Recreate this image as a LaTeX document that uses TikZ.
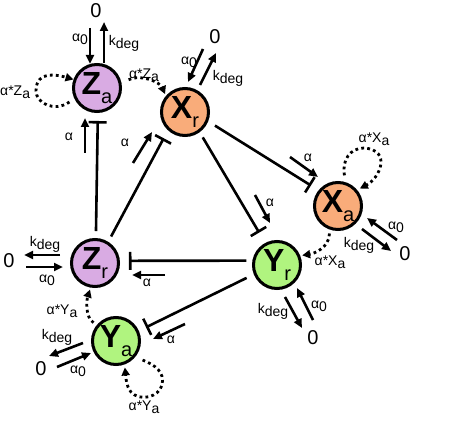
\documentclass[tikz,border=0pt]{standalone}
\usepackage{fontspec}
\setmainfont{Liberation Sans}
\usetikzlibrary{arrows.meta}
\definecolor{purp}{HTML}{D9ABE3}
\definecolor{oran}{HTML}{F9AC7A}
\definecolor{gren}{HTML}{B0F47F}
\newcommand\azero{α\raisebox{-3pt}{0}}
\newcommand\kdg{k\raisebox{-3pt}{deg}}
\newcommand\astar[1]{α*#1\raisebox{-3pt}{a}}
\newcommand\spec[2]{\textbf{#1}\raisebox{-9pt}{\fontsize{20}{20}\selectfont\mdseries #2}}
\begin{document}
\begin{tikzpicture}[x=1pt,y=-1pt,
  cn/.style={circle, draw, line width=3pt, minimum size=47pt, inner sep=0pt,
    font=\fontsize{32}{32}\selectfont},
  lab/.style={font=\fontsize{14}{16}\selectfont, inner sep=0pt},
  zero/.style={font=\fontsize{20}{21}\selectfont, inner sep=0pt},
  flux/.style={line width=2.6pt, -{Triangle[length=9pt,width=8pt]}},
  inh/.style={line width=2.6pt, -{Bar[width=18pt]}},
  dotarr/.style={line width=2.8pt, dash pattern=on 2.8pt off 3.2pt,
    -{Triangle[length=8pt,width=8pt]}}]
\useasboundingbox (0,0) rectangle (458,441);

% species
\node[cn, fill=purp] (Za) at (97,88) {\spec Za};
\node[cn, fill=oran] (Xr) at (185,112) {\spec Xr};
\node[cn, fill=oran] (Xa) at (338,206) {\spec Xa};
\node[cn, fill=gren] (Yr) at (277,265) {\spec Yr};
\node[cn, fill=purp] (Zr) at (95,263) {\spec Zr};
\node[cn, fill=gren] (Ya) at (116,341) {\spec Ya};

% sinks/sources
\node[zero] (Za0) at (96,11) {0};
\node[zero] (Xr0) at (215,37) {0};
\node[zero] (Xa0) at (405,254) {0};
\node[zero] (Yr0) at (313,338) {0};
\node[zero] (Zr0) at (9,261) {0};
\node[zero] (Ya0) at (41,369) {0};

% inhibitions
\draw[inh, shorten <=7pt, shorten >=8pt] (Zr.88) -- (Za.-88);
\draw[inh, shorten <=6pt, shorten >=9pt] (Zr.58) -- (Xr.227);
\draw[inh, shorten <=8pt, shorten >=9pt] (Xr.-22) -- (Xa.141);
\draw[inh, shorten <=6pt, shorten >=12pt] (Xr.-54) -- (Yr.118);
\draw[inh, shorten <=6pt, shorten >=9pt] (Yr.170) -- (Zr.5);
\draw[inh, shorten <=8pt, shorten >=8pt] (Yr.202) -- (Ya.24);

% alpha arrows
\draw[flux] (85,153) -- (85,118);
\node[lab] at (69,137) {α};
\draw[flux] (133,163) -- (152,132);
\node[lab] at (125,143) {α};
\draw[flux] (290,157) -- (318,177);
\node[lab] at (308,158) {α};
\draw[flux] (255,195) -- (270,223);
\node[lab] at (270,203) {α};
\draw[flux] (165,275) -- (132,275);
\node[lab] at (147,283) {α};
\draw[flux] (185,324) -- (153,339);
\node[lab] at (171,340) {α};

% production / degradation
\draw[flux] (90,28) -- (90,64);
\draw[flux] (104,63) -- (104,22);
\node[lab] at (80,39) {\azero};
\node[lab] at (124,43) {\kdg};

\draw[flux] (203,49) -- (188,82);
\draw[flux] (200,85) -- (216,53);
\node[lab] at (189,62) {\azero};
\node[lab] at (228,78) {\kdg};

\draw[flux] (397,240) -- (367,218);
\draw[flux] (362,229) -- (391,251);
\node[lab] at (396,227) {\azero};
\node[lab] at (359,245) {\kdg};

\draw[flux] (285,297) -- (302,328);
\draw[flux] (313,320) -- (297,288);
\node[lab] at (273,311) {\kdg};
\node[lab] at (319,306) {\azero};

\draw[flux] (60,255) -- (24,255);
\draw[flux] (26,267) -- (63,267);
\node[lab] at (45,244) {\kdg};
\node[lab] at (47,280) {\azero};

\draw[flux] (83,343) -- (49,356);
\draw[flux] (57,367) -- (91,353);
\node[lab] at (57,337) {\kdg};
\node[lab] at (78,371) {\azero};

% autocatalysis / activation (dotted)
\draw[dotarr, shorten <=6pt] (Za.205) .. controls +(-20,14) and +(0,12) .. (36,91)
   .. controls +(0,-22) and +(-14,-4) .. (Za.160);
\node[lab, anchor=west] at (0,92) {\astar Z};

\draw[dotarr, shorten <=8pt, shorten >=2pt] (Za.10) .. controls +(18,-10) and +(-6,-14) .. (Xr.140);
\node[lab] at (144,75) {\astar Z};

\draw[dotarr, shorten <=7pt, shorten >=3pt] (Xa.72) .. controls +(-4,-22) and +(-14,0) .. (364,148)
   .. controls (392,150) and (380,178) .. (Xa.40);
\node[lab] at (374,139) {\astar X};

\draw[dotarr, shorten <=4pt, shorten >=2pt] (Xa.-110) .. controls +(0,18) and +(14,-2) .. (Yr.22);
\node[lab] at (330,262) {\astar X};

\draw[dotarr, shorten <=4pt, shorten >=2pt] (Ya.140) .. controls +(-12,-8) and +(-4,12) .. (Zr.-100);
\node[lab] at (62,311) {\astar Y};

\draw[dotarr, shorten <=8pt, shorten >=3pt] (Ya.-40) .. controls (155,365) and (165,372) .. (162,385)
   .. controls (159,397) and (140,402) .. (131,392) .. controls (126,386) and (126,378) .. (Ya.-70);
\node[lab] at (144,407) {\astar Y};
\end{tikzpicture}
\end{document}
